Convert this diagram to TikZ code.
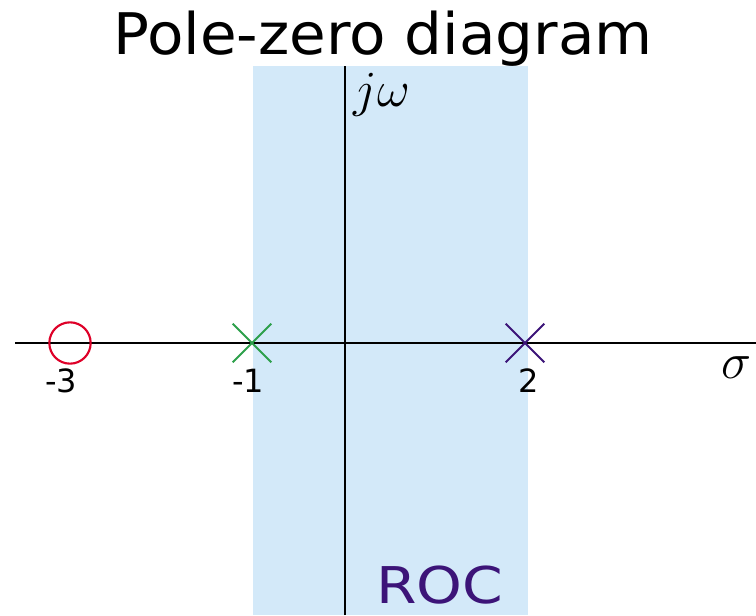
\documentclass[tikz,border=0pt]{standalone}
\usepackage{fix-cm}
\usepackage{fontspec}
\setmainfont{DejaVu Sans}
\newfontfamily\widefont[FakeStretch=1.15]{DejaVu Sans}
\newfontfamily\titlefont[FakeStretch=1.04]{DejaVu Sans}
\usetikzlibrary{positioning,shapes.misc}
\definecolor{rocblue}{RGB}{211,233,249}
\definecolor{zerored}{RGB}{222,0,40}
\definecolor{polegreen}{RGB}{45,160,75}
\definecolor{polepurple}{RGB}{60,20,120}
\tikzset{
  axisline/.style={draw=black, line width=1.5pt},
  zeromark/.style={circle, draw=zerored, line width=1.6pt, minimum size=31pt, inner sep=0pt},
  polemark/.style={cross out, line width=1.5pt, minimum size=27.5pt, inner sep=0pt},
  ticklabel/.style={font=\fontsize{24}{24}\selectfont, inner sep=0pt, anchor=base},
  axisname/.style={font=\fontsize{38}{38}\selectfont, inner sep=0pt, anchor=base},
}
\begin{document}
\begin{tikzpicture}[x=0.75pt, y=0.75pt]
\useasboundingbox (0,0) rectangle (756,615);
% region of convergence
\fill[rocblue] (253,0) rectangle (528,549);
% axes
\coordinate (sleft) at (15,272);
\coordinate (sright) at (756,272);
\coordinate (wbot) at (345,0);
\coordinate (wtop) at (345,549);
\draw[axisline] (sleft) -- (sright);
\draw[axisline] (wbot) -- (wtop);
% zero and poles
\node[zeromark] (zero) at (70,272) {};
\node[polemark, draw=polegreen] (poleA) at (252,272) {};
\node[polemark, draw=polepurple] (poleB) at (525,272) {};
% tick labels
\node[ticklabel] (labA) at ([shift={(-9,-49.5)}]zero) {-3};
\node[ticklabel] (labB) at ([shift={(-4,-49.5)}]poleA) {-1};
\node[ticklabel] (labC) at ([shift={(4,-49.5)}]poleB) {2};
% axis names
\node[axisname] (sigma) at (736,237) {$\sigma$};
\node[axisname] (jomega) at (382,508) {$j\omega$};
% captions
\node[font=\fontsize{38}{38}\selectfont\widefont, text=polepurple, inner sep=0pt, anchor=base] (roc) at (440,12) {ROC};
\node[font=\fontsize{43}{43}\selectfont\titlefont, inner sep=0pt, anchor=base] (title) at (383,560) {Pole-zero diagram};
\end{tikzpicture}
\end{document}
